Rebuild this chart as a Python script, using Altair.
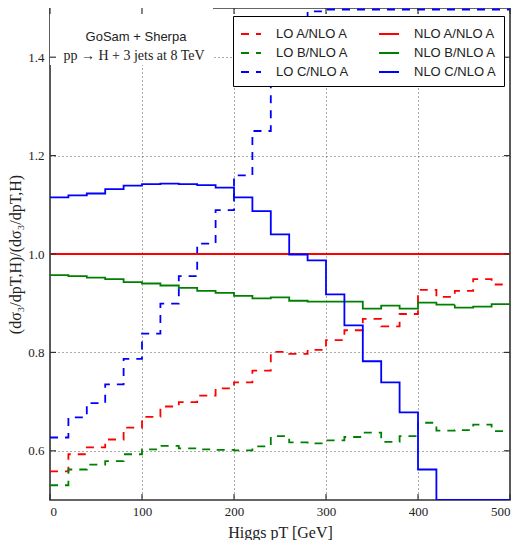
import altair as alt
import pandas as pd

# ---- data ----
edges = [0, 20, 40, 60, 80, 100, 120, 140, 160, 180, 200, 220, 240, 260, 280,
         300, 320, 340, 360, 380, 400, 420, 440, 460, 480, 500]

lo_a = [0.558, 0.593, 0.607, 0.623, 0.647, 0.669, 0.690, 0.699, 0.712, 0.727,
        0.739, 0.763, 0.801, 0.797, 0.805, 0.825, 0.845, 0.868, 0.853, 0.878,
        0.927, 0.913, 0.925, 0.949, 0.938]
lo_b = [0.530, 0.562, 0.572, 0.579, 0.593, 0.603, 0.610, 0.605, 0.603, 0.602,
        0.601, 0.609, 0.630, 0.617, 0.615, 0.621, 0.628, 0.637, 0.618, 0.630,
        0.657, 0.641, 0.642, 0.653, 0.640]
lo_c = [0.627, 0.668, 0.697, 0.735, 0.787, 0.838, 0.899, 0.955, 1.021, 1.089,
        1.160, 1.250, 1.380, 1.450, 1.493, 1.497, 1.497, 1.497, 1.497, 1.497,
        1.497, 1.497, 1.497, 1.497, 1.497]
nlo_a = [1.0, 1.0, 1.0, 1.0, 1.0, 1.0, 1.0, 1.0, 1.0, 1.0,
         1.0, 1.0, 1.0, 1.0, 1.0, 1.0, 1.0, 1.0, 1.0, 1.0,
         1.0, 1.0, 1.0, 1.0, 1.0]
nlo_b = [0.957, 0.955, 0.952, 0.949, 0.943, 0.940, 0.936, 0.931, 0.925, 0.921,
         0.915, 0.910, 0.912, 0.905, 0.903, 0.903, 0.903, 0.889, 0.895, 0.889,
         0.901, 0.897, 0.891, 0.893, 0.898]
nlo_c = [1.115, 1.119, 1.123, 1.132, 1.139, 1.142, 1.143, 1.142, 1.140, 1.135,
         1.115, 1.087, 1.040, 0.999, 0.987, 0.918, 0.855, 0.782, 0.739, 0.678,
         0.562, 0.500, 0.500, 0.500, 0.500]

series_names = ["LO A/NLO A", "LO B/NLO A", "LO C/NLO A",
                "NLO A/NLO A", "NLO B/NLO A", "NLO C/NLO A"]
series_values = [lo_a, lo_b, lo_c, nlo_a, nlo_b, nlo_c]
series_colors = ["#ff0000", "#008000", "#0000ff", "#ff0000", "#008000", "#0000ff"]
series_dashes = [[8, 7], [8, 7], [8, 7], [1, 0], [1, 0], [1, 0]]
draw_order = [0, 1, 2, 3, 4, 5]

x_ticks = [0, 100, 200, 300, 400, 500]
y_ticks = [0.6, 0.8, 1.0, 1.2, 1.4]
annotations = ["GoSam + Sherpa", "pp → H + 3 jets at 8 TeV"]

# ---- build table ----
rows = []
for name, vals, order in zip(series_names, series_values, draw_order):
    ys = vals + [vals[-1]]
    for x, y in zip(edges, ys):
        rows.append({"pt": x, "ratio": y, "series": name, "o": order})
df = pd.DataFrame(rows)

W, H = 460, 492
TICK = 6
frame_col = "#333333"

legend = alt.Legend(
    title=None, orient="none", legendX=183, legendY=8, columns=2,
    symbolType="stroke", symbolSize=400, symbolStrokeWidth=2,
    labelFont="Liberation Sans", labelFontSize=13, labelColor="#222222",
    labelOffset=14, columnPadding=26, rowPadding=1,
    strokeColor="black", fillColor="white", padding=7, cornerRadius=0,
)

x_enc = alt.X("pt:Q", scale=alt.Scale(domain=[0, 500], nice=False, zero=False),
              axis=alt.Axis(values=x_ticks, title="Higgs pT [GeV]", format="d",
                            labelPadding=5, titlePadding=6))
y_enc = alt.Y("ratio:Q", scale=alt.Scale(domain=[0.5, 1.5], nice=False, zero=False),
              axis=alt.Axis(values=y_ticks, title="(dσ₃/dpT,H)/(dσ₃/dpT,H)",
                            format=".1f", labelPadding=6, titlePadding=4))

lines = alt.Chart(df).mark_line(interpolate="step-after", clip=True, strokeWidth=1.8).encode(
    x=x_enc,
    y=y_enc,
    color=alt.Color("series:N", scale=alt.Scale(domain=series_names, range=series_colors),
                    legend=legend),
    strokeDash=alt.StrokeDash("series:N", scale=alt.Scale(domain=series_names, range=series_dashes),
                              legend=legend),
    order=alt.Order("o:Q"),
)

box = alt.Chart(pd.DataFrame({"a": [0]})).mark_rect(color="white").encode(
    x=alt.value(0), x2=alt.value(163), y=alt.value(0), y2=alt.value(57))

ann_df = pd.DataFrame({"t": annotations, "k": [0, 1]})
ann1 = alt.Chart(ann_df[ann_df.k == 0]).mark_text(
    font="Liberation Sans", fontSize=13, color="#222222").encode(
    text="t:N", x=alt.value(86), y=alt.value(29))
ann2 = alt.Chart(ann_df[ann_df.k == 1]).mark_text(
    font="Liberation Serif", fontSize=14, color="#222222").encode(
    text="t:N", x=alt.value(84), y=alt.value(48))

xt = pd.DataFrame({"pt": x_ticks})
yt = pd.DataFrame({"ratio": y_ticks})
tick_x_bot = alt.Chart(xt).mark_rule(color=frame_col, strokeWidth=1.2).encode(
    x="pt:Q", y=alt.value(H), y2=alt.value(H - TICK))
tick_x_top = alt.Chart(xt).mark_rule(color=frame_col, strokeWidth=1.2).encode(
    x="pt:Q", y=alt.value(0), y2=alt.value(TICK))
tick_y_left = alt.Chart(yt).mark_rule(color=frame_col, strokeWidth=1.2).encode(
    y="ratio:Q", x=alt.value(0), x2=alt.value(TICK))
tick_y_right = alt.Chart(yt).mark_rule(color=frame_col, strokeWidth=1.2).encode(
    y="ratio:Q", x=alt.value(W), x2=alt.value(W - TICK))

chart = alt.layer(
    box, lines, ann1, ann2, tick_x_bot, tick_x_top, tick_y_left, tick_y_right
).properties(
    width=W, height=H,
    autosize=alt.AutoSizeParams(type="none"),
    padding={"left": 42, "top": 0, "right": 6, "bottom": 40},
).configure_view(
    stroke=frame_col, strokeWidth=1.6
).configure_axis(
    labelFont="Liberation Serif", labelFontSize=13, labelColor="#222222",
    titleFont="Liberation Serif", titleFontSize=16, titleFontWeight="normal",
    titleColor="#222222",
    ticks=False, domain=False,
    grid=True, gridDash=[1, 3], gridColor="#555555", gridWidth=1,
)

chart.save("out.html", embed_options={"renderer": "svg", "actions": False})
